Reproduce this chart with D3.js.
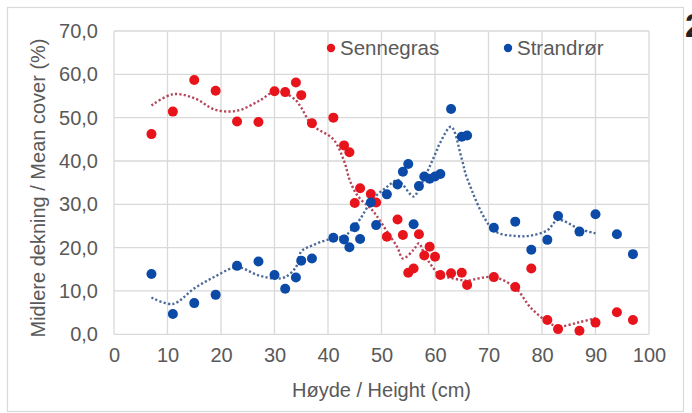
<!DOCTYPE html>
<html>
<head>
<meta charset="utf-8">
<script src="https://cdn.jsdelivr.net/npm/d3@7"></script>
<style>
  html, body { margin: 0; padding: 0; background: #ffffff; }
  svg { display: block; }
  text { font-family: "Liberation Sans", Arial, sans-serif; }
</style>
</head>
<body>
<svg id="chart" width="692" height="413"></svg>
<script>
// ---------- data ----------
const heights = [7, 11, 15, 19, 23, 27, 30, 32, 34, 35, 37, 41, 43, 44, 45, 46, 48, 49, 51, 53,
                 54, 55, 56, 57, 58, 59, 60, 61, 63, 65, 66, 71, 75, 78, 81, 83, 87, 90, 94, 97];
const sennegras = [46.2, 51.4, 58.7, 56.2, 49.1, 49.0, 56.1, 55.9, 58.1, 55.2, 48.7, 50.0, 43.6, 42.0, 30.3, 33.7, 32.4, 30.4, 22.5, 26.5,
                   22.9, 14.2, 15.2, 23.1, 18.2, 20.2, 17.9, 13.7, 14.1, 14.2, 11.4, 13.2, 10.9, 15.2, 3.3, 1.2, 0.8, 2.7, 5.1, 3.3];
const strandror = [13.9, 4.7, 7.2, 9.1, 15.8, 16.8, 13.7, 10.5, 13.1, 17.0, 17.5, 22.3, 21.9, 20.1, 24.7, 22.0, 30.4, 25.2, 32.3, 34.6,
                   37.5, 39.3, 25.4, 34.2, 36.4, 35.9, 36.4, 37.0, 52.0, 45.6, 45.9, 24.6, 26.0, 19.5, 21.8, 27.3, 23.7, 27.7, 23.1, 18.5];

// dotted trend lines
const trendX = [7, 11, 15, 19, 23, 27, 30, 32, 34, 35, 37, 41, 43, 44, 45, 46, 48, 49, 51, 53,
                54, 56, 57, 58, 59, 60, 61, 63, 65, 66, 71, 75, 78, 81, 83, 87, 90];
const trendSennegras = [52.8, 55.4, 54.5, 51.8, 51.6, 53.8, 56.0, 55.6, 54.0, 52.3, 48.3, 45.0, 40.0, 35.8, 33.0, 31.3, 29.0, 27.5, 23.8, 20.0,
                        17.5, 19.5, 21.0, 18.5, 16.5, 14.8, 13.5, 13.0, 12.5, 12.4, 13.2, 10.7, 6.0, 2.9, 1.8, 2.8, 3.7];
const trendStrandror = [8.5, 7.0, 10.6, 13.4, 15.5, 13.6, 12.9, 13.2, 15.5, 19.1, 20.5, 22.2, 22.6, 23.6, 25.0, 26.6, 30.6, 32.0, 34.0, 35.6,
                        34.5, 31.8, 33.6, 36.0, 38.7, 41.5, 44.3, 47.9, 40.5, 36.0, 24.0, 22.7, 22.8, 24.0, 26.4, 24.3, 23.3];

const xTicks = [0, 10, 20, 30, 40, 50, 60, 70, 80, 90, 100];
const xTickLabels = ["0", "10", "20", "30", "40", "50", "60", "70", "80", "90", "100"];
const yTicks = [0, 10, 20, 30, 40, 50, 60, 70];
const yTickLabels = ["0,0", "10,0", "20,0", "30,0", "40,0", "50,0", "60,0", "70,0"];

const seriesNames = ["Sennegras", "Strandrør"];
const xTitle = "Høyde / Height (cm)";
const yTitle = "Midlere dekning / Mean cover (%)";

// ---------- drawing ----------
const svg = d3.select("#chart");
const colRed = "#e8141c", colBlue = "#0b4aa6";
const colRedLine = "#b4475a", colBlueLine = "#4d6a98";
const textCol = "#595959";

// outer chart border
svg.append("rect").attr("x", 7.5).attr("y", 7.5).attr("width", 676).attr("height", 404)
  .attr("fill", "#fff").attr("stroke", "#d9d9d9").attr("stroke-width", 1.2);

const x = d3.scaleLinear().domain([0, 100]).range([114, 649]);
const y = d3.scaleLinear().domain([0, 70]).range([334.3, 31]);

// gridlines
const grid = svg.append("g");
grid.selectAll("line.v").data(xTicks).join("line")
  .attr("x1", d => x(d)).attr("x2", d => x(d)).attr("y1", y(70)).attr("y2", y(0))
  .attr("stroke", "#d9d9d9").attr("stroke-width", 1.3);
grid.selectAll("line.h").data(yTicks).join("line")
  .attr("y1", d => y(d)).attr("y2", d => y(d)).attr("x1", x(0)).attr("x2", x(100))
  .attr("stroke", "#d9d9d9").attr("stroke-width", 1.3);

// axes (labels only)
const xAxis = d3.axisBottom(x).tickValues(xTicks).tickFormat((d, i) => xTickLabels[i]).tickSize(0).tickPadding(14);
const gx = svg.append("g").attr("transform", `translate(0,${y(0)})`).call(xAxis);
gx.select(".domain").remove();
gx.selectAll("text").attr("fill", textCol).style("font-size", "20px").style("font-family", "Liberation Sans, Arial, sans-serif");

const yAxis = d3.axisLeft(y).tickValues(yTicks).tickFormat((d, i) => yTickLabels[i]).tickSize(0).tickPadding(16);
const gy = svg.append("g").attr("transform", `translate(${x(0)},0)`).call(yAxis);
gy.select(".domain").remove();
gy.selectAll("text").attr("fill", textCol).style("font-size", "20px").style("font-family", "Liberation Sans, Arial, sans-serif");

// axis titles
svg.append("text").attr("x", (x(0) + x(100)) / 2).attr("y", 397)
  .attr("text-anchor", "middle").attr("fill", textCol).style("font-size", "20px").text(xTitle);
svg.append("text").attr("transform", `translate(45,${188}) rotate(-90)`)
  .attr("text-anchor", "middle").attr("fill", textCol).style("font-size", "20px").text(yTitle);

// trend lines
const line = d3.line().curve(d3.curveCatmullRom.alpha(0.5));
function trend(vals, col) {
  svg.append("path")
    .attr("d", line(trendX.map((d, i) => [x(d), y(vals[i])])))
    .attr("fill", "none").attr("stroke", col).attr("stroke-width", 2.4)
    .attr("stroke-dasharray", "2.2,2.2");
}
trend(trendStrandror, colBlueLine);
trend(trendSennegras, colRedLine);

// points
svg.append("g").selectAll("circle").data(heights).join("circle")
  .attr("cx", d => x(d)).attr("cy", (d, i) => y(sennegras[i])).attr("r", 5)
  .attr("fill", colRed);
svg.append("g").selectAll("circle").data(heights).join("circle")
  .attr("cx", d => x(d)).attr("cy", (d, i) => y(strandror[i])).attr("r", 5)
  .attr("fill", colBlue);

// legend
const legend = [{name: seriesNames[0], col: colRed, cx: 331}, {name: seriesNames[1], col: colBlue, cx: 508}];
const lg = svg.append("g").selectAll("g").data(legend).join("g");
lg.append("circle").attr("cx", d => d.cx).attr("cy", 48).attr("r", 4.2).attr("fill", d => d.col);
lg.append("text").attr("x", d => d.cx + 9).attr("y", 55).attr("fill", textCol)
  .style("font-size", "20.5px").text(d => d.name);

// partial figure number at top right
svg.append("text").attr("x", 685).attr("y", 37).attr("fill", "#222").style("font-size", "33px")
  .style("font-weight", "bold").text("2");
</script>
</body>
</html>
